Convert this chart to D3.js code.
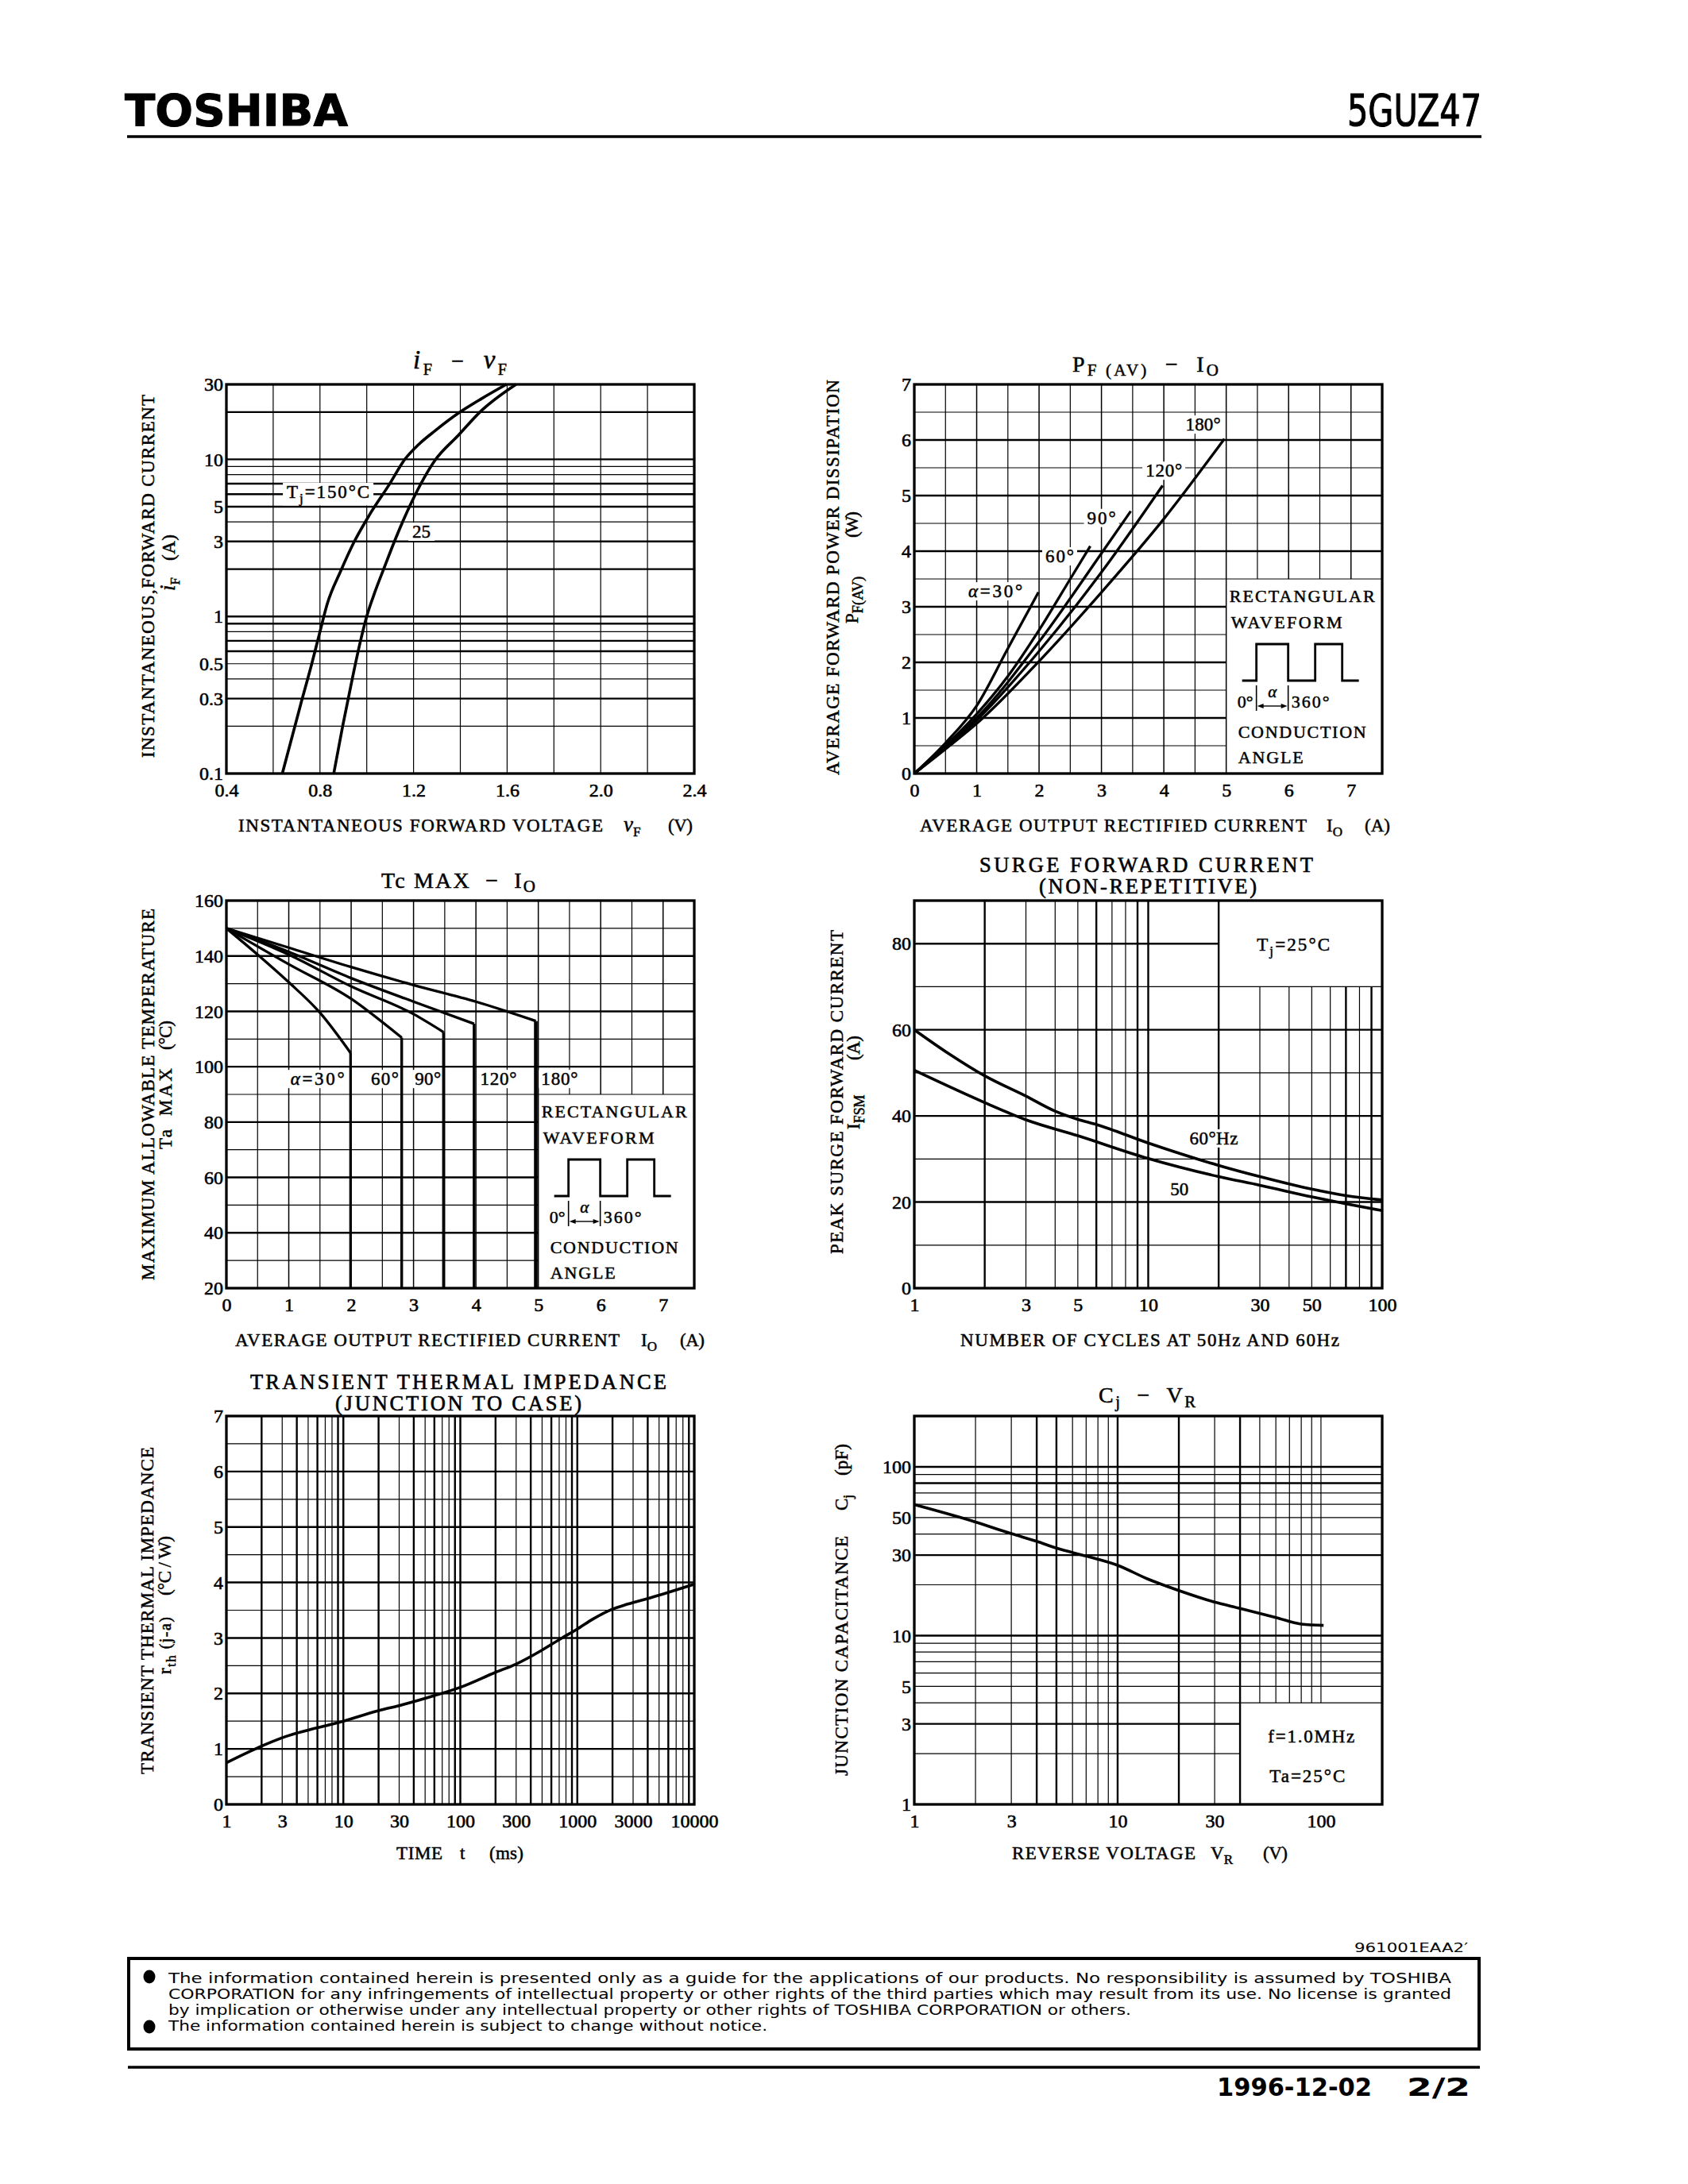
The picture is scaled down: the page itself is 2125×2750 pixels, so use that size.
<!DOCTYPE html>
<html><head><meta charset="utf-8">
<script src="https://cdn.jsdelivr.net/npm/d3@7"></script>
<style>body{margin:0;background:#fff;}</style>
</head><body>
<script>
// ================= DATA =================
// iF - vF (log current)
const ifvfXTicks = [0.4, 0.8, 1.2, 1.6, 2.0, 2.4];
const ifvfYTicks = [0.1, 0.3, 0.5, 1, 3, 5, 10, 30];
const ifvfTj150 = [[0.639,0.1],[0.716,0.27],[0.765,0.5],[0.80,0.8],[0.831,1.2],[0.889,1.95],[0.947,3.0],[1.012,4.44],[1.095,6.87],[1.16,9.87],[1.226,12.6],[1.292,15.2],[1.39,19.6],[1.49,24.3],[1.597,30]];
const ifvfTj25  = [[0.859,0.1],[0.897,0.2],[0.938,0.4],[0.971,0.675],[0.999,0.99],[1.037,1.46],[1.075,2.05],[1.119,3.02],[1.193,5.39],[1.292,9.87],[1.391,14.2],[1.49,20.4],[1.638,30]];

// PF(AV) - IO
const pfXTicks = [0,1,2,3,4,5,6,7];
const pfYTicks = [0,1,2,3,4,5,6,7];
const pf30  = [[0,0],[0.5,0.55],[1,1.22],[1.5,2.25],[1.99,3.26]];
const pf60  = [[0,0],[0.5,0.5],[1,1.07],[1.5,1.75],[2,2.58],[2.5,3.5],[2.82,4.09]];
const pf90  = [[0,0],[0.5,0.48],[1,1.0],[2,2.37],[3,3.96],[3.47,4.72]];
const pf120 = [[0,0],[0.5,0.46],[1,0.96],[2,2.2],[3,3.62],[3.98,5.18]];
const pf180 = [[0,0],[0.5,0.44],[1,0.9],[2,2.02],[3,3.26],[4,4.58],[4.97,6.02]];

// Tc MAX - IO
const tcXTicks = [0,1,2,3,4,5,6,7];
const tcYTicks = [20,40,60,80,100,120,140,160];
const tc30  = [[0,150],[0.5,140.5],[1,130.5],[1.5,119.5],[1.99,105]];
const tc60  = [[0,150],[1,137],[2,124.5],[2.81,110.5]];
const tc90  = [[0,150],[1,140.5],[2,129],[3,119],[3.48,112.5]];
const tc120 = [[0,150],[1,141.5],[2,132],[3,123.5],[3.97,115.5]];
const tc180 = [[0,150],[1,143],[2,136],[3,129.5],[4,123.5],[4.96,116.5]];

// Surge forward current
const surgeXTicks = [1,3,5,10,30,50,100];
const surgeYTicks = [0,20,40,60,80];
const surge60 = [[1,60],[1.4,54.5],[2,49.3],[3,44.6],[4,41.1],[5,39.2],[6,38.0],[10,33.7],[20,28.5],[30,25.9],[50,23.0],[70,21.5],[100,20.5]];
const surge50 = [[1,50.6],[2,43.1],[3,39.1],[5,35.4],[10,30.1],[20,25.9],[30,23.9],[50,21.2],[70,19.6],[100,18.0]];

// Transient thermal impedance
const rthXTicks = [1,3,10,30,100,300,1000,3000,10000];
const rthYTicks = [0,1,2,3,4,5,6,7];
const rthCurve = [[1,0.75],[2,1.05],[3,1.2],[10,1.5],[20,1.69],[30,1.78],[60,1.96],[100,2.11],[200,2.38],[300,2.53],[490,2.77],[740,3.0],[1000,3.16],[1360,3.34],[2000,3.52],[2700,3.61],[4300,3.73],[10000,3.97]];

// Cj - VR
const cjXTicks = [1,3,10,30,100];
const cjYTicks = [1,3,5,10,30,50,100];
const cjCurve = [[1,59.7],[2,47.1],[3,40.2],[4,36.2],[5,33.0],[7,29.6],[10,26.1],[14,21.7],[20,18.5],[30,15.8],[40,14.5],[60,12.8],[80,11.7],[103,11.5]];

// ================= DRAWING =================
const W = 2125, H = 2750;
const SERIF = '"Liberation Serif","DejaVu Serif",serif';
const SANS = '"DejaVu Sans","Liberation Sans",sans-serif';
const svg = d3.select('body').append('svg').attr('width', W).attr('height', H);
svg.append('rect').attr('width', W).attr('height', H).attr('fill', '#fff');

function txt(g, o) {
  const size = o.size || 23;
  const t = g.append('text').attr('x', o.x).attr('y', o.y)
    .attr('font-size', size).attr('text-anchor', o.anchor || 'start')
    .attr('font-family', o.family || SERIF).attr('font-weight', o.weight || 'normal')
    .attr('fill', '#000').style('white-space', 'pre');
  const sw = (o.stroke === undefined) ? 0.5 : o.stroke;
  if (sw > 0) t.attr('stroke', '#000').attr('stroke-width', sw);
  if (o.rot) t.attr('transform', `rotate(-90 ${o.x} ${o.y})`);
  let shift = 0;
  (o.parts || [{ t: o.t }]).forEach(p => {
    const target = p.sub ? (o.subDy || 0.28) * size : 0;
    const ts = t.append('tspan').text(p.t);
    if (target !== shift) { ts.attr('dy', target - shift); shift = target; }
    if (p.sub) ts.attr('font-size', size * (p.scale || 0.74));
    else if (p.size) ts.attr('font-size', p.size);
    if (p.italic) ts.attr('font-style', 'italic');
  });
  if (o.len) t.attr('textLength', o.len).attr('lengthAdjust', o.adjust || 'spacing');
  if (o.bg !== undefined) {
    const b = t.node().getBBox();
    g.insert('rect', () => t.node()).attr('x', b.x - o.bg).attr('y', b.y + 1)
      .attr('width', b.width + 2 * o.bg).attr('height', b.height - 2).attr('fill', '#fff');
  }
  return t;
}

function vline(g, x, y, v, a, b, w) {
  g.append('line').attr('x1', x(v)).attr('x2', x(v)).attr('y1', y(a)).attr('y2', y(b))
    .attr('stroke', '#000').attr('stroke-width', w);
}
function hline(g, x, y, v, a, b, w) {
  g.append('line').attr('y1', y(v)).attr('y2', y(v)).attr('x1', x(a)).attr('x2', x(b))
    .attr('stroke', '#000').attr('stroke-width', w);
}
function frame(g, x, y) {
  const [x0, x1] = x.range(), [y0, y1] = y.range();
  g.append('rect').attr('x', x0).attr('y', y1).attr('width', x1 - x0).attr('height', y0 - y1)
    .attr('fill', 'none').attr('stroke', '#000').attr('stroke-width', 3.3);
}
function axes(g, x, y, xt, yt, xf, yf) {
  const ax = g.append('g').attr('transform', `translate(0,${y.range()[0]})`)
    .call(d3.axisBottom(x).tickValues(xt).tickFormat(xf).tickSize(0).tickPadding(12));
  ax.select('.domain').remove();
  const ay = g.append('g').attr('transform', `translate(${x.range()[0]},0)`)
    .call(d3.axisLeft(y).tickValues(yt).tickFormat(yf).tickSize(0).tickPadding(4));
  ay.select('.domain').remove();
  [ax, ay].forEach(a => a.selectAll('text').attr('font-size', 24).attr('font-family', SERIF)
    .attr('fill', '#000').attr('stroke', '#000').attr('stroke-width', 0.6));
}
function curve(g, x, y, data, w, kind) {
  const line = d3.line().x(d => x(d[0])).y(d => y(d[1])).curve(kind || d3.curveMonotoneX);
  g.append('path').datum(data).attr('d', line).attr('fill', 'none')
    .attr('stroke', '#000').attr('stroke-width', w || 3.4).attr('stroke-linejoin', 'round');
}
function waveBox(g, bx, by) {
  txt(g, { x: bx + 4, y: by + 29, t: 'RECTANGULAR', len: 183, size: 22 });
  txt(g, { x: bx + 6, y: by + 62, t: 'WAVEFORM', len: 140, size: 22 });
  g.append('path').attr('d', `M${bx+20},${by+128}H${bx+38}V${by+82}H${bx+78}V${by+128}H${bx+112}V${by+82}H${bx+146}V${by+128}H${bx+167}`)
    .attr('fill', 'none').attr('stroke', '#000').attr('stroke-width', 2.8);
  [38, 78].forEach(d => g.append('line').attr('x1', bx + d).attr('x2', bx + d).attr('y1', by + 134).attr('y2', by + 166)
    .attr('stroke', '#000').attr('stroke-width', 1.6));
  g.append('line').attr('x1', bx + 44).attr('x2', bx + 72).attr('y1', by + 160).attr('y2', by + 160)
    .attr('stroke', '#000').attr('stroke-width', 1.4);
  g.append('path').attr('d', `M${bx+39},${by+160}L${bx+47},${by+157}L${bx+47},${by+163}Z M${bx+77},${by+160}L${bx+69},${by+157}L${bx+69},${by+163}Z`).attr('fill', '#000');
  txt(g, { x: bx + 58, y: by + 149, anchor: 'middle', parts: [{ t: 'α', italic: true }], size: 21 });
  txt(g, { x: bx + 34, y: by + 162, anchor: 'end', t: '0°', size: 22 });
  txt(g, { x: bx + 82, y: by + 162, t: '360°', size: 22, len: 48 });
  txt(g, { x: bx + 15, y: by + 200, t: 'CONDUCTION', len: 161, size: 22 });
  txt(g, { x: bx + 15, y: by + 232, t: 'ANGLE', len: 82, size: 22 });
}
const thin = 1.2, thick = 2.4;
const LX = [285, 874], RX = [1151, 1740];
const ROW = [[974, 484], [1622, 1134], [2272, 1783]];

// ---------- Header ----------
txt(svg, { x: 157, y: 158, t: 'TOSHIBA', family: SANS, weight: 'bold', size: 56, len: 281, adjust: 'spacingAndGlyphs', stroke: 1 });
txt(svg, { x: 1696, y: 158, t: '5GUZ47', family: SANS, size: 56, len: 169, adjust: 'spacingAndGlyphs', stroke: 1.2 });
svg.append('line').attr('x1', 160).attr('x2', 1865).attr('y1', 172).attr('y2', 172).attr('stroke', '#000').attr('stroke-width', 3.5);

// ---------- Chart 1: iF - vF ----------
{
  const g = svg.append('g');
  const x = d3.scaleLinear([0.4, 2.4], LX), y = d3.scaleLog([0.1, 30], ROW[0]);
  d3.range(1, 10).map(i => +(0.4 + i * 0.2).toFixed(1)).forEach(v => vline(g, x, y, v, 0.1, 30, thin));
  const hv = [0.2,0.3,0.4,0.5,0.6,0.7,0.8,0.9,1,2,3,4,5,6,7,8,9,10,20];
  const hk = [0.3,0.6,0.7,0.9,1,2,3,5,6,7,10,20];
  hv.forEach(v => hline(g, x, y, v, 0.4, 2.4, hk.includes(v) ? thick : thin));
  axes(g, x, y, ifvfXTicks, ifvfYTicks, d3.format('.1f'), d => String(d));
  txt(g, { x: x(0.835), y: y(5.68), anchor: 'middle', parts: [{ t: 'T' }, { t: 'j', sub: true }, { t: '=150°C' }], len: 104, bg: 5 });
  txt(g, { x: x(1.234), y: y(3.17), anchor: 'middle', t: '25', bg: 5 });
  curve(g, x, y, ifvfTj150, 3.6);
  curve(g, x, y, ifvfTj25, 3.6);
  frame(g, x, y);
  txt(g, { x: 520, y: 464, parts: [{ t: 'i', italic: true, size: 33 }, { t: 'F', sub: true, scale: 0.72 }, { t: '  −  ' }, { t: 'v', italic: true, size: 33 }, { t: 'F', sub: true, scale: 0.72 }], size: 28, len: 118 });
  txt(g, { x: 300, y: 1047, t: 'INSTANTANEOUS FORWARD VOLTAGE', len: 459 });
  txt(g, { x: 785, y: 1047, parts: [{ t: 'v', italic: true, size: 27 }, { t: 'F', sub: true }] });
  txt(g, { x: 841, y: 1047, t: '(V)', len: 31 });
  txt(g, { x: 194, y: 954, rot: true, t: 'INSTANTANEOUS,FORWARD CURRENT', len: 457 });
  txt(g, { x: 220, y: 744, rot: true, parts: [{ t: 'i', italic: true, size: 27 }, { t: 'F', sub: true }] });
  txt(g, { x: 220, y: 706, rot: true, t: '(A)', len: 33 });
}

// ---------- Chart 2: PF(AV) - IO ----------
{
  const g = svg.append('g');
  const x = d3.scaleLinear([0, 7.5], RX), y = d3.scaleLinear([0, 7], ROW[0]);
  d3.range(1, 15).map(i => i * 0.5).forEach(v => vline(g, x, y, v, v > 5 ? 3.5 : 0, 7, Number.isInteger(v) ? 1.5 : thin));
  d3.range(1, 14).map(i => i * 0.5).forEach(v => hline(g, x, y, v, 0, v < 3.5 ? 5 : 7.5, Number.isInteger(v) ? thick : thin));
  axes(g, x, y, pfXTicks, pfYTicks, d3.format('d'), d3.format('d'));
  txt(g, { x: x(4.63), y: y(6.17), anchor: 'middle', t: '180°', len: 44, bg: 4 });
  txt(g, { x: x(4.0), y: y(5.34), anchor: 'middle', t: '120°', len: 46, bg: 4 });
  txt(g, { x: x(3.0), y: y(4.49), anchor: 'middle', t: '90°', len: 36, bg: 4 });
  txt(g, { x: x(2.33), y: y(3.8), anchor: 'middle', t: '60°', len: 36, bg: 4 });
  txt(g, { x: x(1.3), y: y(3.17), anchor: 'middle', parts: [{ t: 'α', italic: true }, { t: '=30°' }], len: 68, bg: 4 });
  [pf30, pf60, pf90, pf120, pf180].forEach(d => curve(g, x, y, d, 3.3));
  waveBox(g, x(5), y(3.5));
  frame(g, x, y);
  txt(g, { x: 1350, y: 468, parts: [{ t: 'P' }, { t: 'F (AV)', sub: true, scale: 0.75 }, { t: '  −  ' }, { t: 'I' }, { t: 'O', sub: true, scale: 0.75 }], size: 28, len: 184, subDy: 0.17 });
  txt(g, { x: 1158, y: 1047, t: 'AVERAGE OUTPUT RECTIFIED CURRENT', len: 487 });
  txt(g, { x: 1670, y: 1047, parts: [{ t: 'I' }, { t: 'O', sub: true }] });
  txt(g, { x: 1718, y: 1047, t: '(A)', len: 32 });
  txt(g, { x: 1056, y: 976, rot: true, t: 'AVERAGE FORWARD POWER DISSIPATION', len: 498 });
  txt(g, { x: 1080, y: 785, rot: true, parts: [{ t: 'P' }, { t: 'F', sub: true, scale: 0.8 }, { t: '(AV)', sub: true, scale: 0.8 }] });
  txt(g, { x: 1080, y: 677, rot: true, t: '(W)', len: 33 });
}

// ---------- Chart 3: Tc MAX - IO ----------
{
  const g = svg.append('g');
  const x = d3.scaleLinear([0, 7.5], LX), y = d3.scaleLinear([20, 160], ROW[1]);
  d3.range(1, 15).map(i => i * 0.5).forEach(v => vline(g, x, y, v, v > 5 ? 90 : 20, 160, Number.isInteger(v) ? 1.5 : thin));
  d3.range(30, 160, 10).forEach(v => hline(g, x, y, v, 0, v < 90 ? 5 : 7.5, v % 20 === 0 ? thick : thin));
  axes(g, x, y, tcXTicks, tcYTicks, d3.format('d'), d3.format('d'));
  txt(g, { x: x(1.46), y: y(93.4), anchor: 'middle', parts: [{ t: 'α', italic: true }, { t: '=30°' }], len: 68, bg: 4 });
  txt(g, { x: x(2.54), y: y(93.4), anchor: 'middle', t: '60°', len: 35, bg: 4 });
  txt(g, { x: x(3.23), y: y(93.4), anchor: 'middle', t: '90°', len: 33, bg: 3 });
  txt(g, { x: x(4.36), y: y(93.4), anchor: 'middle', t: '120°', len: 46, bg: 3 });
  txt(g, { x: x(5.34), y: y(93.4), anchor: 'middle', t: '180°', len: 46, bg: 3 });
  const sets = [[tc30, 3.2], [tc60, 3.4], [tc90, 3.4], [tc120, 3.4], [tc180, 4.6]];
  sets.forEach(([d, w]) => {
    curve(g, x, y, d, 3.3);
    const e = d[d.length - 1];
    vline(g, x, y, e[0], 20, e[1], w);
  });
  waveBox(g, x(5), y(90));
  frame(g, x, y);
  txt(g, { x: 480, y: 1118, parts: [{ t: 'Tc MAX  −  I' }, { t: 'O', sub: true, scale: 0.75 }], size: 28, len: 194, subDy: 0.17 });
  txt(g, { x: 296, y: 1695, t: 'AVERAGE OUTPUT RECTIFIED CURRENT', len: 484 });
  txt(g, { x: 807, y: 1695, parts: [{ t: 'I' }, { t: 'O', sub: true }] });
  txt(g, { x: 856, y: 1695, t: '(A)', len: 31 });
  txt(g, { x: 194, y: 1612, rot: true, t: 'MAXIMUM ALLOWABLE TEMPERATURE', len: 468 });
  txt(g, { x: 216, y: 1447, rot: true, t: 'Ta', len: 25 });
  txt(g, { x: 216, y: 1405, rot: true, t: 'MAX', len: 60 });
  txt(g, { x: 216, y: 1322, rot: true, t: '(°C)', len: 37 });
}

// ---------- Chart 4: Surge forward current ----------
{
  const g = svg.append('g');
  const x = d3.scaleLog([1, 100], RX), y = d3.scaleLinear([0, 90], ROW[1]);
  const vv = [2,3,4,5,6,7,8,9,10,20,30,40,50,60,70,80,90];
  const vk = [2,6,9,10,20,70,90];
  vv.forEach(v => vline(g, x, y, v, 0, v > 20 ? 70 : 90, vk.includes(v) ? thick : thin));
  d3.range(10, 90, 10).forEach(v => hline(g, x, y, v, 1, v === 80 ? 20 : 100, v % 20 === 0 ? thick : thin));
  axes(g, x, y, surgeXTicks, surgeYTicks, d => String(d), d3.format('d'));
  txt(g, { x: x(41.7), y: y(78.4), anchor: 'middle', parts: [{ t: 'T' }, { t: 'j', sub: true }, { t: '=25°C' }], len: 92 });
  txt(g, { x: x(19.05), y: y(33.4), anchor: 'middle', t: '60°Hz', len: 61, bg: 4 });
  txt(g, { x: x(13.6), y: y(21.6), anchor: 'middle', t: '50', bg: 4 });
  curve(g, x, y, surge60, 3.6);
  curve(g, x, y, surge50, 3.6);
  frame(g, x, y);
  txt(g, { x: 1233, y: 1098, t: 'SURGE FORWARD CURRENT', len: 420, size: 26.5, stroke: 0.6 });
  txt(g, { x: 1308, y: 1125, t: '(NON-REPETITIVE)', len: 274, size: 26.5, stroke: 0.6 });
  txt(g, { x: 1209, y: 1695, t: 'NUMBER OF CYCLES AT 50Hz AND 60Hz', len: 477 });
  txt(g, { x: 1061, y: 1579, rot: true, t: 'PEAK SURGE FORWARD CURRENT', len: 408 });
  txt(g, { x: 1082, y: 1422, rot: true, parts: [{ t: 'I' }, { t: 'FSM', sub: true, scale: 0.78 }] });
  txt(g, { x: 1082, y: 1335, rot: true, t: '(A)', len: 31 });
}

// ---------- Chart 5: Transient thermal impedance ----------
{
  const g = svg.append('g');
  const x = d3.scaleLog([1, 10000], LX), y = d3.scaleLinear([0, 7], ROW[2]);
  [1, 10, 100, 1000].forEach(d => d3.range(1, 11).forEach(m => {
    if (d === 1 && m === 1) return;
    const v = d * m;
    if (v >= 10000) return;
    vline(g, x, y, v, 0, 7, ([2, 4, 6, 9, 10].includes(m)) ? thick : thin);
  }));
  d3.range(1, 14).map(i => i * 0.5).forEach(v => hline(g, x, y, v, 1, 10000, Number.isInteger(v) ? thick : thin));
  axes(g, x, y, rthXTicks, rthYTicks, d => String(d), d3.format('d'));
  curve(g, x, y, rthCurve, 3.6);
  frame(g, x, y);
  txt(g, { x: 315, y: 1749, t: 'TRANSIENT THERMAL IMPEDANCE', len: 524, size: 26.5, stroke: 0.6 });
  txt(g, { x: 422, y: 1776, t: '(JUNCTION TO CASE)', len: 310, size: 26.5, stroke: 0.6 });
  txt(g, { x: 499, y: 2341, t: 'TIME', len: 58 });
  txt(g, { x: 579, y: 2341, t: 't' });
  txt(g, { x: 616, y: 2341, t: '(ms)', len: 43 });
  txt(g, { x: 193, y: 2234, rot: true, t: 'TRANSIENT THERMAL IMPEDANCE', len: 412 });
  txt(g, { x: 215, y: 2108, rot: true, parts: [{ t: 'r' }, { t: 'th', sub: true }, { t: ' (j-a)', size: 20 }], len: 72 });
  txt(g, { x: 215, y: 2009, rot: true, t: '(°C / W)', len: 75 });
}

// ---------- Chart 6: Cj - VR ----------
{
  const g = svg.append('g');
  const x = d3.scaleLog([1, 200], RX), y = d3.scaleLog([1, 200], ROW[2]);
  const vals = [2,3,4,5,6,7,8,9,10,20,30,40,50,60,70,80,90,100];
  const vk = [4,5,10,20,40];
  const hk = [3,10,30,80,100];
  vals.forEach(v => vline(g, x, y, v, v >= 50 ? 4 : 1, 200, vk.includes(v) ? thick : thin));
  vals.forEach(v => hline(g, x, y, v, 1, (v === 2 || v === 3) ? 40 : 200, hk.includes(v) ? thick : thin));
  axes(g, x, y, cjXTicks, cjYTicks, d => String(d), d => String(d));
  txt(g, { x: x(89.6), y: y(2.33), anchor: 'middle', t: 'f=1.0MHz', len: 109 });
  txt(g, { x: x(85.7), y: y(1.355), anchor: 'middle', t: 'Ta=25°C', len: 95 });
  curve(g, x, y, cjCurve, 3.6);
  frame(g, x, y);
  txt(g, { x: 1383, y: 1766, parts: [{ t: 'C' }, { t: 'j', sub: true }, { t: '  −  V' }, { t: 'R', sub: true }], size: 28, len: 122, subDy: 0.2 });
  txt(g, { x: 1274, y: 2341, t: 'REVERSE VOLTAGE', len: 231 });
  txt(g, { x: 1524, y: 2341, parts: [{ t: 'V' }, { t: 'R', sub: true }] });
  txt(g, { x: 1590, y: 2341, t: '(V)', len: 31 });
  txt(g, { x: 1067, y: 2236, rot: true, t: 'JUNCTION CAPACITANCE', len: 302 });
  txt(g, { x: 1067, y: 1902, rot: true, parts: [{ t: 'C' }, { t: 'j', sub: true }] });
  txt(g, { x: 1067, y: 1858, rot: true, t: '(pF)', len: 40 });
}

// ---------- Footer ----------
txt(svg, { x: 1705, y: 2458, t: '961001EAA2′', family: SANS, size: 15, len: 143, adjust: 'spacingAndGlyphs', stroke: 0 });
svg.append('rect').attr('x', 162).attr('y', 2466).attr('width', 1700).attr('height', 114)
  .attr('fill', 'none').attr('stroke', '#000').attr('stroke-width', 4);
[2489, 2552].forEach(cy => svg.append('ellipse').attr('cx', 188).attr('cy', cy).attr('rx', 7.5).attr('ry', 8.5).attr('fill', '#000'));
const footLines = [
  ['The information contained herein is presented only as a guide for the applications of our products. No responsibility is assumed by TOSHIBA', 2497, 1615],
  ['CORPORATION for any infringements of intellectual property or other rights of the third parties which may result from its use. No license is granted', 2517, 1615],
  ['by implication or otherwise under any intellectual property or other rights of TOSHIBA CORPORATION or others.', 2537, 1212],
  ['The information contained herein is subject to change without notice.', 2557, 754]
];
footLines.forEach(([t, yy, len]) => txt(svg, { x: 212, y: yy, t, family: SANS, size: 18.5, len, adjust: 'spacingAndGlyphs', stroke: 0 }));
svg.append('line').attr('x1', 161).attr('x2', 1863).attr('y1', 2603).attr('y2', 2603).attr('stroke', '#000').attr('stroke-width', 3.5);
txt(svg, { x: 1532, y: 2639, t: '1996-12-02', family: SANS, weight: 'bold', size: 32, len: 195, adjust: 'spacingAndGlyphs', stroke: 0 });
txt(svg, { x: 1771, y: 2639, t: '2/2', family: SANS, weight: 'bold', size: 32, len: 80, adjust: 'spacingAndGlyphs', stroke: 0 });
</script>
</body></html>
